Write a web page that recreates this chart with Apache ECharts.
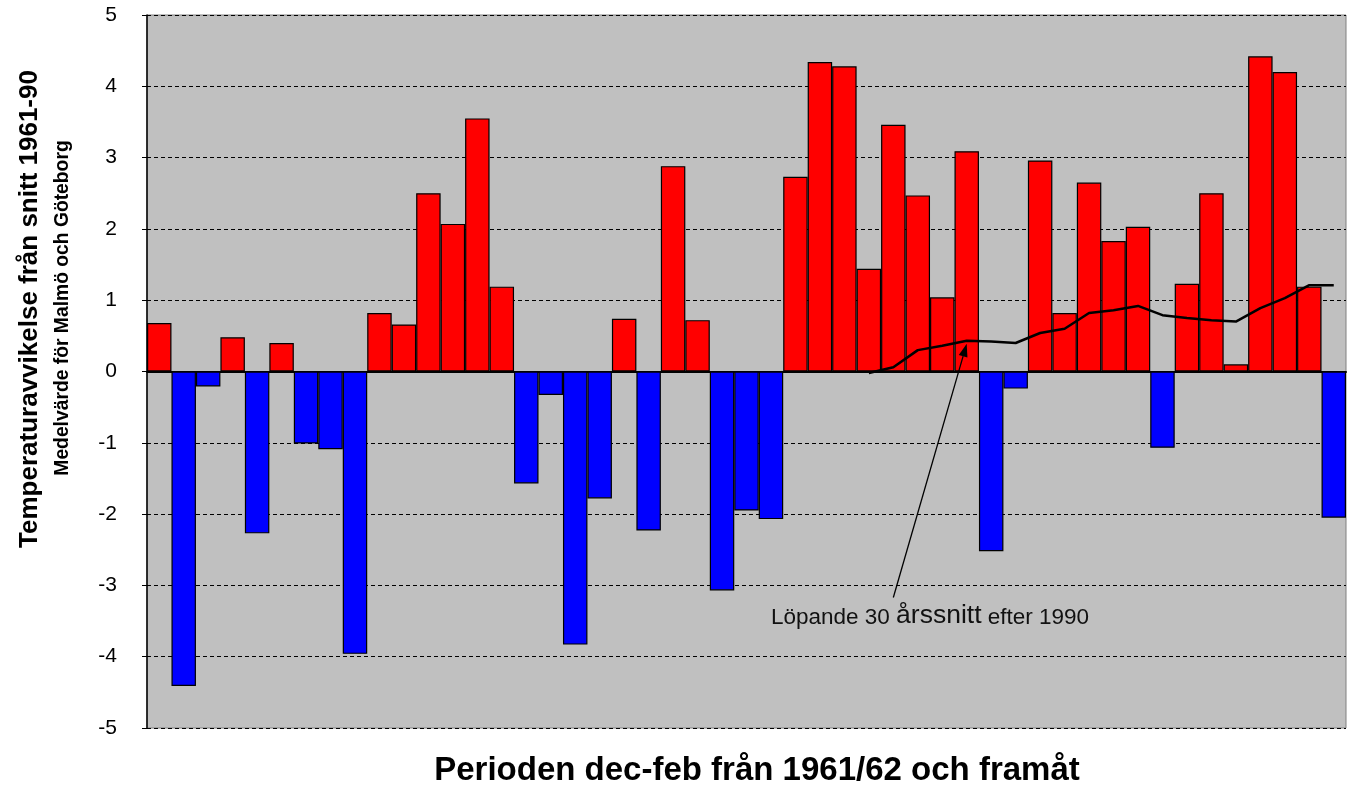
<!DOCTYPE html>
<html>
<head>
<meta charset="utf-8">
<script src="https://cdn.jsdelivr.net/npm/echarts@6/dist/echarts.min.js"></script>
<style>
html,body{margin:0;padding:0;background:#fff;}
#chart{width:1348px;height:788px;}
</style>
</head>
<body>
<div id="chart"></div>
<script>
const categories = ["1961/62","1962/63","1963/64","1964/65","1965/66","1966/67","1967/68","1968/69","1969/70","1970/71",
"1971/72","1972/73","1973/74","1974/75","1975/76","1976/77","1977/78","1978/79","1979/80","1980/81",
"1981/82","1982/83","1983/84","1984/85","1985/86","1986/87","1987/88","1988/89","1989/90","1990/91",
"1991/92","1992/93","1993/94","1994/95","1995/96","1996/97","1997/98","1998/99","1999/00","2000/01",
"2001/02","2002/03","2003/04","2004/05","2005/06","2006/07","2007/08","2008/09","2009/10"];
const deviation = [0.68,-4.41,-0.21,0.48,-2.27,0.40,-1.01,-1.09,-3.96,0.82,
0.66,2.50,2.07,3.55,1.19,-1.57,-0.33,-3.83,-1.78,0.74,
-2.23,2.88,0.72,-3.07,-1.95,-2.07,2.73,4.34,4.28,1.44,
3.46,2.47,1.04,3.09,-2.52,-0.24,2.96,0.82,2.65,1.83,
2.03,-1.07,1.23,2.50,0.10,4.42,4.20,1.19,-2.05];
const running30 = [null,null,null,null,null,null,null,null,null,null,
null,null,null,null,null,null,null,null,null,null,
null,null,null,null,null,null,null,null,null,-0.02,
0.06,0.30,0.36,0.43,0.42,0.40,0.54,0.60,0.82,0.86,
0.92,0.79,0.75,0.72,0.70,0.89,1.03,1.21,1.21];
const yTicks = [-5,-4,-3,-2,-1,0,1,2,3,4,5];

const chart = echarts.init(document.getElementById('chart'));
const FONT = 'Liberation Sans, Arial, sans-serif';
chart.setOption({
  animation:false,
  grid:{left:147,right:2,top:15,bottom:60,show:true,backgroundColor:'#C0C0C0',borderColor:'#808080',borderWidth:1},
  xAxis:{type:'category',data:categories,axisLine:{onZero:true,lineStyle:{color:'#000',width:2}},
    axisTick:{show:false},axisLabel:{show:false},splitLine:{show:false}},
  yAxis:{type:'value',min:yTicks[0],max:yTicks[yTicks.length-1],interval:1,
    axisLine:{show:true,lineStyle:{color:'#000',width:1.5}},
    axisTick:{show:true,inside:false,length:5,lineStyle:{color:'#000'}},
    axisLabel:{fontSize:21,color:'#000',fontFamily:FONT,margin:30},
    splitLine:{show:true,lineStyle:{color:'#000',type:[4,3],width:1}}},
  series:[
    {type:'bar',data:deviation,barCategoryGap:'0%',
     itemStyle:{color:p=>p.value>=0?'#FF0000':'#0000FF',borderColor:'#000',borderWidth:1.2}},
    {type:'line',data:running30,showSymbol:false,symbol:'none',lineStyle:{color:'#000',width:2.5},z:5}
  ]
});

const tip = chart.convertToPixel({xAxisIndex:0,yAxisIndex:0},[32.55,0.39]);
const tail = chart.convertToPixel({xAxisIndex:0,yAxisIndex:0},[30.15,-3.17]);
const textPos = chart.convertToPixel({xAxisIndex:0,yAxisIndex:0},[24.85,-3.62]);
const ang = Math.atan2(tip[1]-tail[1], tip[0]-tail[0]);
const hl = 13, hw = 4.5;
const bx = tip[0]-hl*Math.cos(ang), by = tip[1]-hl*Math.sin(ang);
const px = -Math.sin(ang), py = Math.cos(ang);

chart.setOption({graphic:[
  {type:'line',shape:{x1:tail[0],y1:tail[1],x2:bx,y2:by},style:{stroke:'#000',lineWidth:1.3},z:100},
  {type:'polygon',shape:{points:[[tip[0],tip[1]],[bx+px*hw,by+py*hw],[bx-px*hw,by-py*hw]]},style:{fill:'#000'},z:100},
  {type:'text',x:textPos[0],y:textPos[1],z:100,style:{
    text:'{a|Löpande 30 }{b|årssnitt}{a| efter 1990}',
    textVerticalAlign:'bottom',
    rich:{a:{fontSize:22.5,fontFamily:FONT,fill:'#111',verticalAlign:'bottom'},b:{fontSize:26.5,fontFamily:FONT,fill:'#111',verticalAlign:'bottom'}}}},
  {type:'text',x:30,y:309,rotation:Math.PI/2,z:100,style:{text:'Temperaturavvikelse från snitt 1961-90',
    fontSize:26,fontWeight:'bold',fontFamily:FONT,fill:'#000',textAlign:'center',textVerticalAlign:'middle'}},
  {type:'text',x:63,y:308,rotation:Math.PI/2,z:100,style:{text:'Medelvärde för Malmö och Göteborg',
    fontSize:19.3,fontWeight:'bold',fontFamily:FONT,fill:'#000',textAlign:'center',textVerticalAlign:'middle'}},
  {type:'text',x:757,y:771,z:100,style:{text:'Perioden dec-feb från 1961/62 och framåt',
    fontSize:33,fontWeight:'bold',fontFamily:FONT,fill:'#000',textAlign:'center',textVerticalAlign:'middle'}}
]});
</script>
</body>
</html>
